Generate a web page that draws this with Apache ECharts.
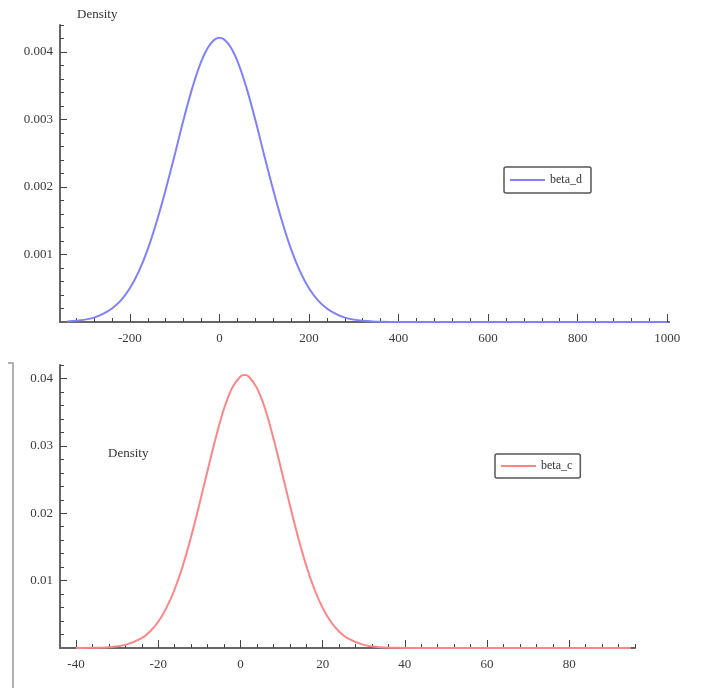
<!DOCTYPE html>
<html>
<head>
<meta charset="utf-8">
<script src="https://cdn.jsdelivr.net/npm/echarts@6/dist/echarts.min.js"></script>
<style>
  html, body { margin: 0; padding: 0; background: #fff; }
  #main { width: 706px; height: 688px; }
</style>
</head>
<body>
<div id="main"></div>
<script>
// beta_d density (top panel)
let betaDx = [-340,-320,-300,-280,-260,-240,-220,-200,-180,-160,-140,-120,-100,-80,-60,-40,-20,0,
  20,40,60,80,100,120,140,160,180,200,220,240,260,280,300,320,340,360,400,500,600,700,800,900,1000];
let betaDy = [0.000009,0.000018,0.000035,0.000065,0.00012,0.00020,0.00032,0.00050,0.00075,0.00108,
  0.00149,0.00196,0.00247,0.00300,0.00348,0.00387,0.00412,0.00421,
  0.00412,0.00387,0.00348,0.00300,0.00247,0.00196,0.00149,0.00108,0.00075,0.00050,0.00032,0.00020,
  0.00012,0.000065,0.000035,0.000018,0.000009,0.000004,0,0,0,0,0,0,0];

// beta_c density (bottom panel)
let betaCx = [-40,-36,-32,-28,-24,-22,-20,-18,-16,-14,-12,-10,-8,-6,-4,-2,0,1,2,
  4,6,8,10,12,14,16,18,20,22,24,26,30,34,38,42,50,60,70,80,90,95];
let betaCy = [0.000005,0.000028,0.000124,0.00046,0.00146,0.00244,0.00389,0.00595,0.00872,0.01225,
  0.0165,0.0213,0.0263,0.0312,0.0355,0.0386,0.0403,0.0405,0.0403,
  0.0386,0.0355,0.0312,0.0263,0.0213,0.0165,0.01225,0.00872,0.00595,0.00389,0.00244,0.00146,
  0.00046,0.000124,0.000028,0.000005,0,0,0,0,0,0];

// tick labels
let topXLabels = [-200,0,200,400,600,800,1000];
let topYLabels = [0.001,0.002,0.003,0.004];
let botXLabels = [-40,-20,0,20,40,60,80];
let botYLabels = [0.01,0.02,0.03,0.04];

function steps(from, to, step){
  let out = [];
  let n = Math.round((to-from)/step);
  for (let i=0;i<=n;i++) out.push(+(from+i*step).toPrecision(10));
  return out;
}
let topXMinor = steps(-320,1000,40);
let topYMinor = steps(0.0002,0.0044,0.0002);
let botXMinor = steps(-40,96,4);
let botYMinor = steps(0.002,0.042,0.002);

let font = 'Liberation Serif';
let axisCol = '#666';
let tickCol = '#444';

function mainX(grid,min,max,labels,minor,fmt){
  return {
    type:'value', gridIndex:grid, min:min, max:max, position:'bottom',
    axisLine:{show:true,onZero:false,lineStyle:{color:axisCol,width:2}},
    axisTick:{show:true,inside:true,length:4,customValues:minor,lineStyle:{color:tickCol,width:1}},
    axisLabel:{show:true,customValues:labels,margin:10,fontFamily:font,fontSize:13,color:'#3a3a3a',formatter:fmt},
    splitLine:{show:false}
  };
}
function majorX(grid,min,max,labels){
  return {
    type:'value', gridIndex:grid, min:min, max:max, position:'bottom',
    axisLine:{show:false,onZero:false},
    axisTick:{show:true,inside:true,length:8,customValues:labels,lineStyle:{color:tickCol,width:1}},
    axisLabel:{show:false}, splitLine:{show:false}
  };
}
function mainY(grid,min,max,labels,minor,fmt,name,nameGap,namePad){
  return {
    type:'value', gridIndex:grid, min:min, max:max, position:'left',
    name:name, nameLocation:'end', nameGap:nameGap,
    nameTextStyle:{fontFamily:font,fontSize:13,color:'#333',align:'left',padding:namePad},
    axisLine:{show:true,onZero:false,lineStyle:{color:axisCol,width:2}},
    axisTick:{show:true,inside:true,length:4,customValues:minor,lineStyle:{color:tickCol,width:1}},
    axisLabel:{show:true,customValues:labels,margin:7,fontFamily:font,fontSize:13,color:'#3a3a3a',formatter:fmt},
    splitLine:{show:false}
  };
}
function majorY(grid,min,max,labels){
  return {
    type:'value', gridIndex:grid, min:min, max:max, position:'left',
    axisLine:{show:false,onZero:false},
    axisTick:{show:true,inside:true,length:7,customValues:labels,lineStyle:{color:tickCol,width:1}},
    axisLabel:{show:false}, splitLine:{show:false}
  };
}

var myChart = echarts.init(document.getElementById('main'));
option = {
  animation:false,
  backgroundColor:'#fff',
  grid:[
    {left:60, top:25, width:609, height:297},
    {left:60, top:365, width:575, height:283}
  ],
  xAxis:[
    mainX(0,-356,1004,topXLabels,topXMinor,v=>String(v)),
    majorX(0,-356,1004,topXLabels),
    mainX(1,-43.9,96,botXLabels,botXMinor,v=>String(v)),
    majorX(1,-43.9,96,botXLabels)
  ],
  yAxis:[
    mainY(0,0,0.0044,topYLabels,topYMinor,v=>v.toFixed(3),'Density',4,[0,0,0,17]),
    majorY(0,0,0.0044,topYLabels),
    mainY(1,0,0.042,botYLabels,botYMinor,v=>v.toFixed(2),'Density',-95,[0,0,0,48]),
    majorY(1,0,0.042,botYLabels)
  ],
  legend:[
    {
      data:['beta_d'], left:504, top:167, orient:'horizontal', icon:'rect',
      borderColor:'#555', borderWidth:1.5, borderRadius:2, padding:[7,9,7,6],
      itemWidth:35, itemHeight:2, itemGap:5,
      textStyle:{fontFamily:font,fontSize:12,color:'#333'}
    },
    {
      data:['beta_c'], left:495, top:454, orient:'horizontal', icon:'rect',
      borderColor:'#555', borderWidth:1.5, borderRadius:2, padding:[6,8,6,6],
      itemWidth:35, itemHeight:2, itemGap:5,
      textStyle:{fontFamily:font,fontSize:12,color:'#333'}
    }
  ],
  graphic:[
    {type:'polyline', shape:{points:[[8,363],[13,363],[13,688]]}, style:{stroke:'#999',lineWidth:1.5,fill:null}}
  ],
  series:[
    {
      name:'beta_d', type:'line', xAxisIndex:0, yAxisIndex:0,
      smooth:0.35, symbol:'none',
      lineStyle:{color:'#8080ff',width:2}, itemStyle:{color:'#8080ff'},
      data:betaDx.map((x,i)=>[x,betaDy[i]])
    },
    {
      name:'beta_c', type:'line', xAxisIndex:2, yAxisIndex:2,
      smooth:0.35, symbol:'none',
      lineStyle:{color:'#ff8585',width:2}, itemStyle:{color:'#ff8585'},
      data:betaCx.map((x,i)=>[x,betaCy[i]])
    }
  ]
};
if (option && typeof option === "object") {
  myChart.setOption(option, true);
}
</script>
</body>
</html>
